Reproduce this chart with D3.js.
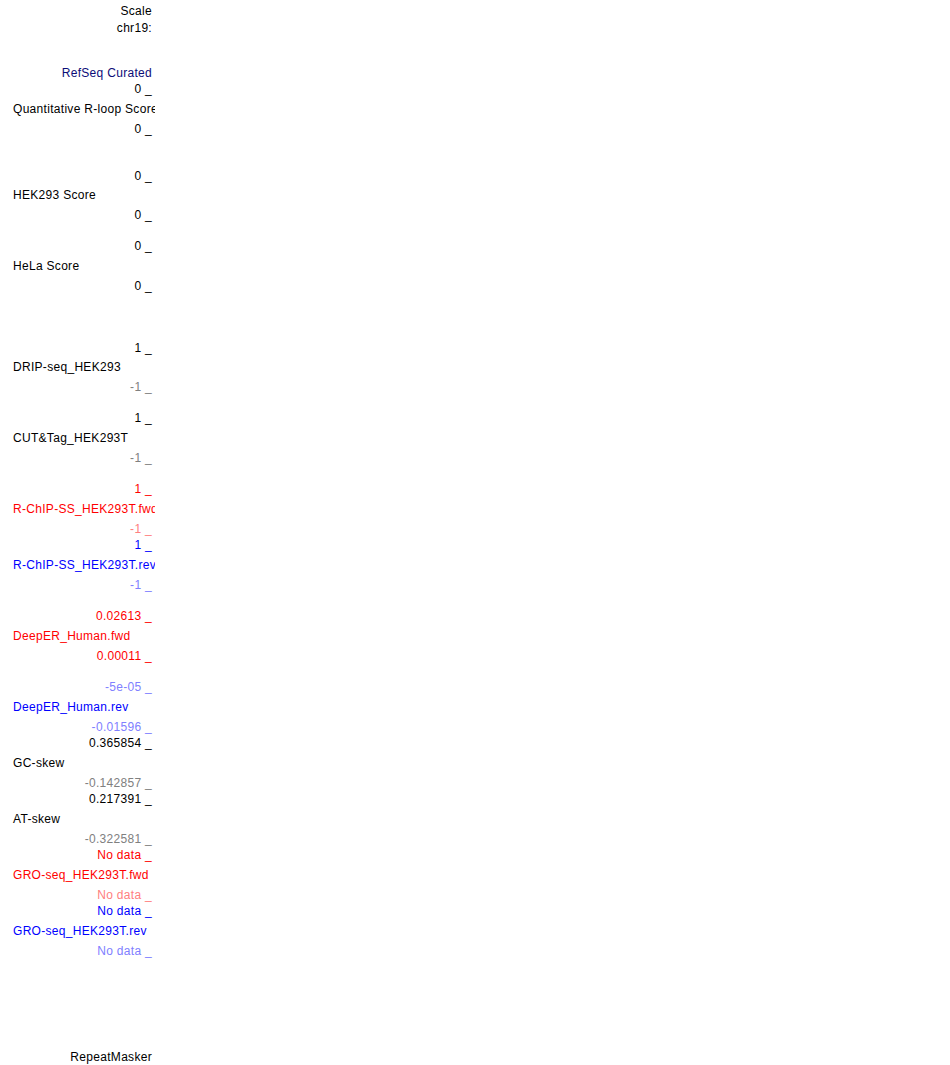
<!DOCTYPE html>
<html lang="en">
<head>
  <meta charset="UTF-8">
  <title>Track labels</title>
  <script src="https://cdn.jsdelivr.net/npm/d3@7"></script>
  <style>
    body { margin: 0; background: #fff; }
    text { font-family: "Liberation Sans", Arial, sans-serif; font-size: 12px; letter-spacing: 0.3px; }
  </style>
</head>
<body>
  <script>
    // Track names (left aligned) and the row they sit on
    var trackNames = ["Quantitative R-loop Score", "HEK293 Score", "HeLa Score", "DRIP-seq_HEK293",
      "CUT&Tag_HEK293T", "R-ChIP-SS_HEK293T.fwd", "R-ChIP-SS_HEK293T.rev", "DeepER_Human.fwd",
      "DeepER_Human.rev", "GC-skew", "AT-skew", "GRO-seq_HEK293T.fwd", "GRO-seq_HEK293T.rev"];
    var trackRows = [108, 194, 265, 366, 437, 508, 564, 635, 706, 762, 818, 874, 930];
    var trackKind = ["black", "black", "black", "black", "black", "red", "blue", "red",
      "blue", "black", "black", "red", "blue"];

    // Axis max / min labels per track ("_" tick marks)
    var maxLabels = ["0", "0", "0", "1", "1", "1", "1", "0.02613", "-5e-05", "0.365854", "0.217391", "No data", "No data"];
    var maxRows = [88, 175, 245, 347, 417, 488, 544, 615, 686, 742, 798, 854, 910];
    var minLabels = ["0", "0", "0", "-1", "-1", "-1", "-1", "0.00011", "-0.01596", "-0.142857", "-0.322581", "No data", "No data"];
    var minRows = [128, 214, 285, 386, 457, 528, 584, 655, 726, 782, 838, 894, 950];
    var minIsNeg = [false, false, false, true, true, true, true, false, true, true, true, true, true];

    // Right aligned header labels
    var headLabels = ["Scale", "chr19:", "RefSeq Curated", "RepeatMasker"];
    var headRows = [10, 27, 72, 1056];
    var headKind = ["black", "black", "navy", "black"];

    var colour = {
      black: "#000000", navy: "#0c0c78", red: "#ff0000", blue: "#0000ff"
    };
    var lightColour = {
      black: "#808080", red: "#ff8080", blue: "#8080ff"
    };

    var width = 950, height = 1065;
    var svg = d3.select("body").append("svg")
      .attr("width", width).attr("height", height);

    svg.append("clipPath").attr("id", "labelClip")
      .append("rect").attr("x", 0).attr("y", 0).attr("width", 155).attr("height", height);

    // row position -> text baseline
    var y = d3.scaleLinear().domain([0, height]).range([4.5, height + 4.5]);

    var panel = svg.append("g").attr("clip-path", "url(#labelClip)");

    panel.selectAll("text.head")
      .data(headLabels)
      .enter().append("text")
      .attr("class", "head")
      .attr("x", 152)
      .attr("y", (d, i) => y(headRows[i]))
      .attr("text-anchor", "end")
      .attr("fill", (d, i) => colour[headKind[i]])
      .text(d => d);

    panel.selectAll("text.track")
      .data(trackNames)
      .enter().append("text")
      .attr("class", "track")
      .attr("x", 13)
      .attr("y", (d, i) => y(trackRows[i]))
      .attr("fill", (d, i) => colour[trackKind[i]])
      .text(d => d);

    panel.selectAll("text.max")
      .data(maxLabels)
      .enter().append("text")
      .attr("class", "max")
      .attr("x", 152)
      .attr("y", (d, i) => y(maxRows[i]))
      .attr("text-anchor", "end")
      .attr("fill", (d, i) => {
        var k = trackKind[i];
        // DeepER reverse track shows its (negative) max in light colour
        return (k === "blue" && d.charAt(0) === "-") ? lightColour[k] : colour[k];
      })
      .text(d => d + " _");

    panel.selectAll("text.min")
      .data(minLabels)
      .enter().append("text")
      .attr("class", "min")
      .attr("x", 152)
      .attr("y", (d, i) => y(minRows[i]))
      .attr("text-anchor", "end")
      .attr("fill", (d, i) => minIsNeg[i] ? lightColour[trackKind[i]] : colour[trackKind[i]])
      .text(d => d + " _");
  </script>
</body>
</html>
